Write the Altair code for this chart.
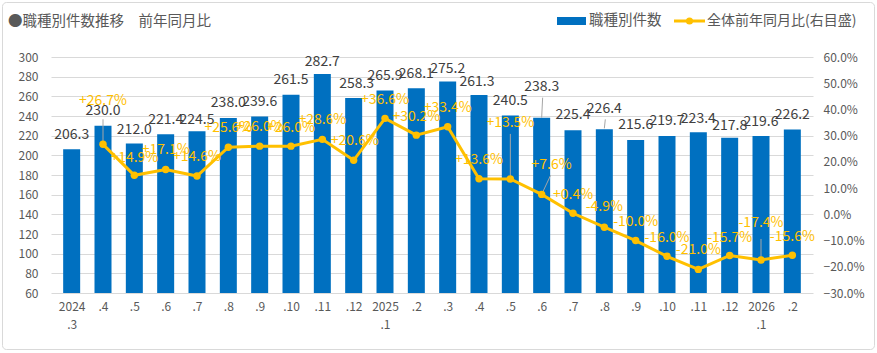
import altair as alt
import pandas as pd

# ---------------- data ----------------
periods = ["2024|.3", ".4", ".5", ".6", ".7", ".8", ".9", ".10", ".11", ".12",
           "2025|.1", ".2", ".3", ".4", ".5", ".6", ".7", ".8", ".9", ".10",
           ".11", ".12", "2026|.1", ".2"]
counts = [206.3, 230.0, 212.0, 221.4, 224.5, 238.0, 239.6, 261.5, 282.7, 258.3,
          265.9, 268.1, 275.2, 261.3, 240.5, 238.3, 225.4, 226.4, 215.6, 219.7,
          223.4, 217.8, 219.6, 226.2]
yoy = [None, 26.7, 14.9, 17.1, 14.6, 25.6, 26.0, 26.0, 28.6, 20.6,
       36.6, 30.2, 33.4, 13.6, 13.5, 7.6, 0.4, -4.9, -10.0, -16.0,
       -21.0, -15.7, -17.4, -15.6]

# label placement (pixel offsets of label centres from bar tops / line points)
bar_label_dy = [-14, -15, -14, -14, -11, -15, -14, -15, -12, -14, -15, -14,
                -12, -13, -15, -31, -15, -20, -15, -15, -13, -12, -14, -15]
bar_label_dx = [0, 0, 0, 0, 0, 0, 0, 0, 0, 3, 0, 0,
                0, -2, 0, 0, 0, 0, 0, 0, 0, 0, 0, 0]
line_label_dy = [0, -43, -17, -19, -19, -19, -19, -18, -19, -19, -18, -18,
                 -19, -19, -56, -29, -18, -20, -19, -18, -19, -18, -37, -18]
line_label_dx = [0, 0, 0, 0, 0, 0, 0, 0, 0, 1, 0, 0,
                 0, 0, 0, 10, 0, 0, 0, 0, 0, 0, 0, 0]
# leader lines: (index, start offset px above anchor, end dx px, end dy px)
bar_leaders = [(15, 0, 1, -20), (17, -1, 1, -10)]
line_leaders = [(1, 0, 0, -25), (14, 0, 0, -45), (15, 0, 9, -19), (22, 0, 0, -21)]

FONT = "Noto Sans CJK JP"
BLUE = "#0070C0"
GOLD = "#FFC000"
GRAY_TXT = "#595959"
VAL_TXT = "#404040"

W, H = 762, 236
Y_L = [60, 300]
Y_R = [-30, 60]
X_DOM = [-0.5, 23.5]
upx_l = (Y_L[1] - Y_L[0]) / H
upx_r = (Y_R[1] - Y_R[0]) / H
upx_x = (X_DOM[1] - X_DOM[0]) / W

n = len(counts)
bar_df = pd.DataFrame({
    "idx": list(range(n)),
    "count": counts,
    "base": [60] * n,
    "lbl": [f"{v:.1f}" for v in counts],
    "lx": [i + bar_label_dx[i] * upx_x for i in range(n)],
    "ly": [counts[i] - bar_label_dy[i] * upx_l for i in range(n)],
})

line_rows = []
for i in range(n):
    if yoy[i] is None:
        continue
    line_rows.append({
        "idx": i,
        "pct": yoy[i],
        "lbl": f"{yoy[i]:+.1f}%",
        "lx": i + line_label_dx[i] * upx_x,
        "ly": yoy[i] - line_label_dy[i] * upx_r,
    })
line_df = pd.DataFrame(line_rows)

bl_df = pd.DataFrame([{
    "x": i, "y": counts[i] - s * upx_l,
    "x2": i + ex * upx_x, "y2": counts[i] - ey * upx_l}
    for (i, s, ex, ey) in bar_leaders])
ll_df = pd.DataFrame([{
    "x": i, "y": yoy[i] - s * upx_r,
    "x2": i + ex * upx_x, "y2": yoy[i] - ey * upx_r}
    for (i, s, ex, ey) in line_leaders])

one = pd.DataFrame({"a": [0]})

# ---------------- scales / axes ----------------
xs = alt.Scale(domain=X_DOM, nice=False, zero=False)
ysl = alt.Scale(domain=Y_L, nice=False, zero=False)
ysr = alt.Scale(domain=Y_R, nice=False, zero=False)

label_arr = "[" + ",".join("'" + p + "'" for p in periods) + "]"
x_axis = alt.Axis(values=list(range(n)), labelExpr=f"split({label_arr}[datum.value], '|')",
                  domain=False, ticks=False, grid=False, labelPadding=8,
                  labelColor=GRAY_TXT, labelFontSize=12, labelFont=FONT,
                  labelLineHeight=18, labelAngle=0, labelOverlap=False,
                  labelFlush=False, title=None)
left_axis = alt.Axis(values=list(range(60, 301, 20)), grid=True, gridColor="#D9D9D9",
                     gridWidth=1, domain=False, ticks=False, labelPadding=13,
                     labelColor=GRAY_TXT, labelFontSize=12, labelFont=FONT, title=None)
right_axis = alt.Axis(orient="right", values=list(range(-30, 61, 10)), grid=False,
                      domain=False, ticks=False, labelPadding=10,
                      labelExpr="format(datum.value, '.1f') + '%'",
                      labelColor=GRAY_TXT, labelFontSize=12, labelFont=FONT, title=None)

# ---------------- left (bars) ----------------
bars = alt.Chart(bar_df).mark_bar(size=17, color=BLUE).encode(
    x=alt.X("idx:Q", scale=xs, axis=x_axis),
    y=alt.Y("count:Q", scale=ysl, axis=left_axis),
    y2="base:Q",
)
bar_lbl = alt.Chart(bar_df).mark_text(fontSize=14, color=VAL_TXT, font=FONT,
                                      align="center", baseline="middle").encode(
    x=alt.X("lx:Q", scale=xs, axis=x_axis),
    y=alt.Y("ly:Q", scale=ysl, axis=left_axis),
    text="lbl:N",
)
bar_lead = alt.Chart(bl_df).mark_rule(color="#A6A6A6", strokeWidth=1).encode(
    x=alt.X("x:Q", scale=xs, axis=x_axis), x2="x2:Q",
    y=alt.Y("y:Q", scale=ysl, axis=left_axis), y2="y2:Q",
)

# decorations
border = alt.Chart(one).mark_rect(fillOpacity=0, stroke="#D9D9D9", strokeWidth=1,
                                  cornerRadius=4).encode(
    x=alt.value(-48.5), x2=alt.value(823.5), y=alt.value(-54.5), y2=alt.value(292.5))
title = alt.Chart(one).mark_text(fontSize=14.5, color=GRAY_TXT, font=FONT, align="left",
                                 baseline="middle").encode(
    x=alt.value(-43), y=alt.value(-35), text=alt.value("●職種別件数推移　前年同月比"))
leg_rect = alt.Chart(one).mark_rect(color=BLUE).encode(
    x=alt.value(506), x2=alt.value(535), y=alt.value(-40), y2=alt.value(-32))
leg_t1 = alt.Chart(one).mark_text(fontSize=14.5, color=GRAY_TXT, font=FONT, align="left",
                                  baseline="middle").encode(
    x=alt.value(538), y=alt.value(-36), text=alt.value("職種別件数"))
leg_line = alt.Chart(one).mark_rule(color=GOLD, strokeWidth=3).encode(
    x=alt.value(623), x2=alt.value(654), y=alt.value(-36))
leg_dot = alt.Chart(one).mark_circle(color=GOLD, size=50, opacity=1).encode(
    x=alt.value(638.5), y=alt.value(-36))
leg_t2 = alt.Chart(one).mark_text(fontSize=14, color=GRAY_TXT, font=FONT, align="left",
                                  baseline="middle").encode(
    x=alt.value(656), y=alt.value(-36), text=alt.value("全体前年同月比(右目盛)"))

left = alt.layer(bars, bar_lead, bar_lbl, border, title, leg_rect, leg_t1, leg_line,
                 leg_dot, leg_t2)

# ---------------- right (line) ----------------
line = alt.Chart(line_df).mark_line(color=GOLD, strokeWidth=3).encode(
    x=alt.X("idx:Q", scale=xs, axis=x_axis),
    y=alt.Y("pct:Q", scale=ysr, axis=right_axis),
)
pts = alt.Chart(line_df).mark_circle(color=GOLD, size=55, opacity=1).encode(
    x=alt.X("idx:Q", scale=xs, axis=x_axis),
    y=alt.Y("pct:Q", scale=ysr, axis=right_axis),
)
line_lead = alt.Chart(ll_df).mark_rule(color="#A6A6A6", strokeWidth=1).encode(
    x=alt.X("x:Q", scale=xs, axis=x_axis), x2="x2:Q",
    y=alt.Y("y:Q", scale=ysr, axis=right_axis), y2="y2:Q",
)
line_lbl = alt.Chart(line_df).mark_text(fontSize=14, color=GOLD, font=FONT,
                                        align="center", baseline="middle").encode(
    x=alt.X("lx:Q", scale=xs, axis=x_axis),
    y=alt.Y("ly:Q", scale=ysr, axis=right_axis),
    text="lbl:N",
)
right = alt.layer(line_lead, line, pts, line_lbl)

chart = alt.layer(left, right).resolve_scale(y="independent").properties(
    width=W, height=H,
    padding={"left": 51, "top": 57, "right": 64, "bottom": 60},
    autosize=alt.AutoSizeParams(type="none"),
    background="white",
).configure_view(stroke=None)

chart.save("out.html", embed_options={"renderer": "svg", "actions": False})
